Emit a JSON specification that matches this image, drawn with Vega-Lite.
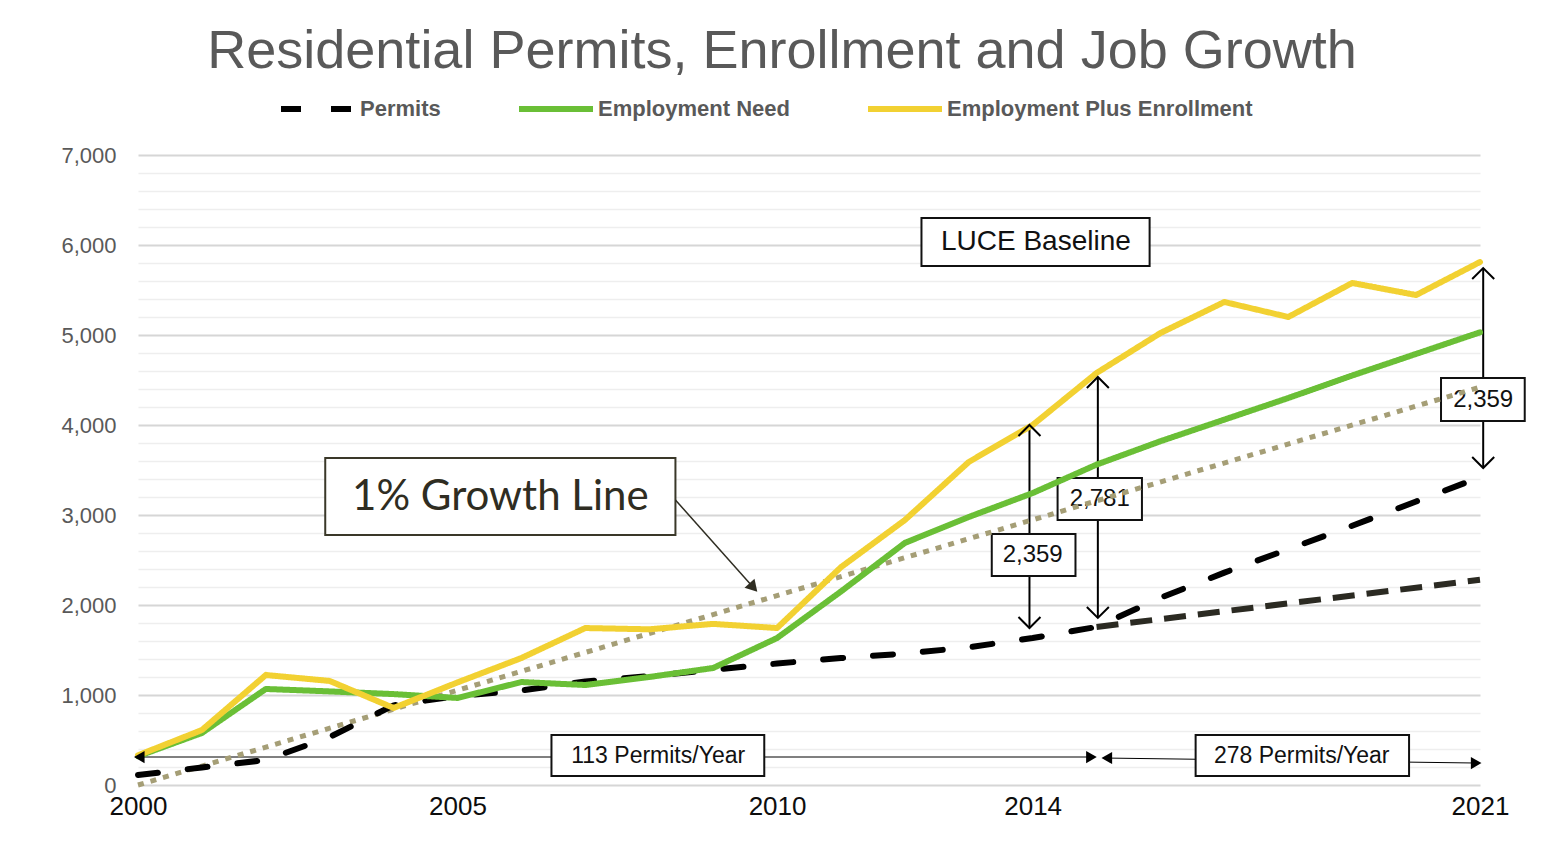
{
  "$schema": "https://vega.github.io/schema/vega-lite/v6.json",
  "width": 1342,
  "height": 630,
  "autosize": {"type": "none"},
  "padding": {"left": 138, "top": 155, "right": 70, "bottom": 81},
  "background": "#ffffff",
  "config": {"view": {"stroke": null}},
  "title": {
    "text": "Residential Permits, Enrollment and Job Growth",
    "font": "Liberation Sans",
    "fontSize": 54,
    "fontWeight": "normal",
    "color": "#595959",
    "anchor": "middle",
    "dx": -27,
    "offset": -10
  },
  "datasets": {
    "series": [
      {"year": 2000, "series": "Permits", "value": 111},
      {"year": 2001, "series": "Permits", "value": 195},
      {"year": 2002, "series": "Permits", "value": 278},
      {"year": 2003, "series": "Permits", "value": 533},
      {"year": 2004, "series": "Permits", "value": 885},
      {"year": 2005, "series": "Permits", "value": 990},
      {"year": 2006, "series": "Permits", "value": 1050},
      {"year": 2007, "series": "Permits", "value": 1150},
      {"year": 2008, "series": "Permits", "value": 1210},
      {"year": 2009, "series": "Permits", "value": 1280},
      {"year": 2010, "series": "Permits", "value": 1350},
      {"year": 2011, "series": "Permits", "value": 1410},
      {"year": 2012, "series": "Permits", "value": 1460},
      {"year": 2013, "series": "Permits", "value": 1530},
      {"year": 2014, "series": "Permits", "value": 1633},
      {"year": 2015, "series": "Permits", "value": 1756},
      {"year": 2016, "series": "Permits", "value": 2080},
      {"year": 2017, "series": "Permits", "value": 2360},
      {"year": 2018, "series": "Permits", "value": 2620},
      {"year": 2019, "series": "Permits", "value": 2880},
      {"year": 2020, "series": "Permits", "value": 3150},
      {"year": 2021, "series": "Permits", "value": 3420},
      {"year": 2000, "series": "Employment Need", "value": 320},
      {"year": 2001, "series": "Employment Need", "value": 578},
      {"year": 2002, "series": "Employment Need", "value": 1067},
      {"year": 2003, "series": "Employment Need", "value": 1040},
      {"year": 2004, "series": "Employment Need", "value": 1010},
      {"year": 2005, "series": "Employment Need", "value": 967},
      {"year": 2006, "series": "Employment Need", "value": 1144},
      {"year": 2007, "series": "Employment Need", "value": 1111},
      {"year": 2008, "series": "Employment Need", "value": 1200},
      {"year": 2009, "series": "Employment Need", "value": 1300},
      {"year": 2010, "series": "Employment Need", "value": 1633},
      {"year": 2011, "series": "Employment Need", "value": 2150},
      {"year": 2012, "series": "Employment Need", "value": 2690},
      {"year": 2013, "series": "Employment Need", "value": 2978},
      {"year": 2014, "series": "Employment Need", "value": 3244},
      {"year": 2015, "series": "Employment Need", "value": 3560},
      {"year": 2016, "series": "Employment Need", "value": 3820},
      {"year": 2017, "series": "Employment Need", "value": 4060},
      {"year": 2018, "series": "Employment Need", "value": 4300},
      {"year": 2019, "series": "Employment Need", "value": 4550},
      {"year": 2020, "series": "Employment Need", "value": 4790},
      {"year": 2021, "series": "Employment Need", "value": 5030},
      {"year": 2000, "series": "Employment Plus Enrollment", "value": 330},
      {"year": 2001, "series": "Employment Plus Enrollment", "value": 611},
      {"year": 2002, "series": "Employment Plus Enrollment", "value": 1222},
      {"year": 2003, "series": "Employment Plus Enrollment", "value": 1156},
      {"year": 2004, "series": "Employment Plus Enrollment", "value": 856},
      {"year": 2005, "series": "Employment Plus Enrollment", "value": 1140},
      {"year": 2006, "series": "Employment Plus Enrollment", "value": 1411},
      {"year": 2007, "series": "Employment Plus Enrollment", "value": 1744},
      {"year": 2008, "series": "Employment Plus Enrollment", "value": 1730},
      {"year": 2009, "series": "Employment Plus Enrollment", "value": 1790},
      {"year": 2010, "series": "Employment Plus Enrollment", "value": 1744},
      {"year": 2011, "series": "Employment Plus Enrollment", "value": 2420},
      {"year": 2012, "series": "Employment Plus Enrollment", "value": 2944},
      {"year": 2013, "series": "Employment Plus Enrollment", "value": 3589},
      {"year": 2014, "series": "Employment Plus Enrollment", "value": 4000},
      {"year": 2015, "series": "Employment Plus Enrollment", "value": 4578},
      {"year": 2016, "series": "Employment Plus Enrollment", "value": 5022},
      {"year": 2017, "series": "Employment Plus Enrollment", "value": 5367},
      {"year": 2018, "series": "Employment Plus Enrollment", "value": 5200},
      {"year": 2019, "series": "Employment Plus Enrollment", "value": 5578},
      {"year": 2020, "series": "Employment Plus Enrollment", "value": 5444},
      {"year": 2021, "series": "Employment Plus Enrollment", "value": 5811}
    ],
    "trend": [{"year": 2015, "value": 1756}, {"year": 2021, "value": 2280}],
    "growth": [{"year": 2000, "value": 0}, {"year": 2021, "value": 4420}],
    "vgrid": [{"year": 2005}, {"year": 2010}, {"year": 2014}, {"year": 2015}, {"year": 2021}],
    "varrows": [
      {"year": 2013.95, "value": 1744, "value2": 4000},
      {"year": 2015.02, "value": 1856, "value2": 4533},
      {"year": 2021.05, "value": 3522, "value2": 5744}
    ],
    "chevUp": [
      {"year": 2013.95, "value": 4000},
      {"year": 2015.02, "value": 4533},
      {"year": 2021.05, "value": 5744}
    ],
    "chevDown": [
      {"year": 2013.95, "value": 1744},
      {"year": 2015.02, "value": 1856},
      {"year": 2021.05, "value": 3522}
    ],
    "harrows": [
      {"year": 2000.05, "year2": 2014.95, "value": 311, "value2": 311},
      {"year": 2015.1, "year2": 2020.95, "value": 300, "value2": 244}
    ],
    "triLeft": [{"year": 2000.02, "value": 311}, {"year": 2015.16, "value": 300}],
    "triRight": [{"year": 2014.92, "value": 311}, {"year": 2020.94, "value": 244}],
    "boxes": [
      {"kind": "luce", "label": "LUCE Baseline", "year": 2012.26, "year2": 2015.83, "value": 5767, "value2": 6300, "cx": 2014.05, "cy": 6033},
      {"kind": "growth", "label": "1% Growth Line", "year": 2002.93, "year2": 2008.41, "value": 2778, "value2": 3633, "cx": 2005.67, "cy": 3200},
      {"kind": "num", "label": "2,359", "year": 2013.36, "year2": 2014.67, "value": 2322, "value2": 2789, "cx": 2014.0, "cy": 2556},
      {"kind": "num", "label": "2,781", "year": 2014.39, "year2": 2015.71, "value": 2944, "value2": 3411, "cx": 2015.05, "cy": 3178},
      {"kind": "num", "label": "2,359", "year": 2020.39, "year2": 2021.7, "value": 4044, "value2": 4522, "cx": 2021.05, "cy": 4278},
      {"kind": "rate", "label": "113 Permits/Year", "year": 2006.47, "year2": 2009.8, "value": 100, "value2": 556, "cx": 2008.14, "cy": 322},
      {"kind": "rate", "label": "278 Permits/Year", "year": 2016.55, "year2": 2019.89, "value": 100, "value2": 556, "cx": 2018.21, "cy": 322}
    ],
    "callout": [{"year": 2008.41, "value": 3167, "year2": 2009.63, "value2": 2194}],
    "calloutHead": [{"year": 2009.63, "value": 2194}]
  },
  "encoding": {
    "x": {
      "field": "year", "type": "quantitative", "title": null,
      "scale": {"domain": [2000, 2021], "nice": false, "zero": false},
      "axis": {
        "values": [2000, 2005, 2010, 2014, 2021], "format": "d", "grid": false, "domain": false, "ticks": false,
        "labelFont": "Liberation Sans", "labelFontSize": 26, "labelColor": "#0d0d0d", "labelPadding": 8,
        "labelFlush": false, "labelOverlap": false
      }
    },
    "y": {
      "field": "value", "type": "quantitative", "title": null,
      "scale": {"domain": [0, 7000], "nice": false},
      "axis": {
        "values": [0,200,400,600,800,1000,1200,1400,1600,1800,2000,2200,2400,2600,2800,3000,3200,3400,3600,3800,4000,4200,4400,4600,4800,5000,5200,5400,5600,5800,6000,6200,6400,6600,6800,7000],
        "labelExpr": "datum.value % 1000 === 0 ? format(datum.value, ',') : ''",
        "domain": false, "ticks": false, "labelOverlap": false,
        "labelFont": "Liberation Sans", "labelFontSize": 22, "labelColor": "#595959", "labelPadding": 22,
        "grid": true,
        "gridColor": {"condition": {"test": "datum.value % 1000 === 0", "value": "#d6d6d6"}, "value": "#eeeeee"},
        "gridWidth": {"condition": {"test": "datum.value % 1000 === 0", "value": 2}, "value": 1.5}
      }
    }
  },
  "layer": [
    {
      "data": {"name": "harrows"},
      "mark": {"type": "rule", "color": "#000000", "strokeWidth": 1},
      "encoding": {"x2": {"field": "year2"}, "y2": {"field": "value2"}}
    },
    {
      "data": {"name": "varrows"},
      "mark": {"type": "rule", "color": "#000000", "strokeWidth": 2},
      "encoding": {"y2": {"field": "value2"}}
    },
    {
      "data": {"name": "boxes"},
      "transform": [{"filter": "datum.kind !== 'growth'"}],
      "mark": {"type": "rect", "fill": "#ffffff", "stroke": "#111111", "strokeWidth": 2},
      "encoding": {"x2": {"field": "year2"}, "y2": {"field": "value2"}}
    },
    {
      "data": {"name": "boxes"},
      "transform": [{"filter": "datum.kind === 'growth'"}],
      "mark": {"type": "rect", "fill": "#ffffff", "stroke": "#3a3829", "strokeWidth": 2},
      "encoding": {"x2": {"field": "year2"}, "y2": {"field": "value2"}}
    },
    {
      "data": {"name": "boxes"},
      "transform": [{"filter": "datum.kind === 'luce'"}],
      "mark": {"type": "text", "font": "Liberation Sans", "fontSize": 28, "color": "#111111", "align": "center", "baseline": "middle"},
      "encoding": {"x": {"field": "cx", "type": "quantitative", "title": null}, "y": {"field": "cy", "type": "quantitative", "title": null}, "text": {"field": "label"}}
    },
    {
      "data": {"name": "boxes"},
      "transform": [{"filter": "datum.kind === 'growth'"}],
      "mark": {"type": "text", "font": "Lato", "fontSize": 42, "color": "#2f2d22", "align": "center", "baseline": "middle"},
      "encoding": {"x": {"field": "cx", "type": "quantitative", "title": null}, "y": {"field": "cy", "type": "quantitative", "title": null}, "text": {"field": "label"}}
    },
    {
      "data": {"name": "boxes"},
      "transform": [{"filter": "datum.kind === 'num'"}],
      "mark": {"type": "text", "font": "Liberation Sans", "fontSize": 24, "color": "#111111", "align": "center", "baseline": "middle"},
      "encoding": {"x": {"field": "cx", "type": "quantitative", "title": null}, "y": {"field": "cy", "type": "quantitative", "title": null}, "text": {"field": "label"}}
    },
    {
      "data": {"name": "boxes"},
      "transform": [{"filter": "datum.kind === 'rate'"}],
      "mark": {"type": "text", "font": "Liberation Sans", "fontSize": 23, "color": "#111111", "align": "center", "baseline": "middle"},
      "encoding": {"x": {"field": "cx", "type": "quantitative", "title": null}, "y": {"field": "cy", "type": "quantitative", "title": null}, "text": {"field": "label"}}
    },
    {
      "data": {"name": "vgrid"},
      "mark": {"type": "rule", "color": "#b8b38f", "strokeWidth": 1.5, "strokeDash": [2, 3]},
      "encoding": {"y": {"datum": 0}, "y2": {"datum": 7000}}
    },
    {
      "data": {"name": "growth"},
      "mark": {"type": "line", "color": "#a59e76", "strokeWidth": 5, "strokeDash": [6, 7], "strokeCap": "butt"},
      "encoding": {}
    },
    {
      "data": {"name": "trend"},
      "mark": {"type": "line", "color": "#2b2a22", "strokeWidth": 6, "strokeDash": [22, 12], "strokeCap": "butt"},
      "encoding": {}
    },
    {
      "data": {"name": "series"},
      "mark": {"type": "line", "strokeWidth": 6, "strokeCap": "round", "strokeJoin": "round"},
      "encoding": {
        "color": {
          "field": "series", "type": "nominal",
          "scale": {"domain": ["Permits", "Employment Need", "Employment Plus Enrollment"], "range": ["#000000", "#6abf36", "#f2d132"]},
          "legend": {"title": null, "orient": "none", "legendX": 140, "legendY": -86, "direction": "horizontal", "symbolType": "stroke", "symbolSize": 5476, "symbolStrokeWidth": 6, "labelFont": "Liberation Sans", "labelFontWeight": "bold", "labelFontSize": 22, "labelColor": "#595959", "labelOffset": 2, "columnPadding": 66, "padding": 0, "labelLimit": 600}
        },
        "strokeDash": {
          "field": "series", "type": "nominal",
          "scale": {"domain": ["Permits", "Employment Need", "Employment Plus Enrollment"], "range": [[20, 30], [1, 0], [1, 0]]},
          "legend": {"title": null, "orient": "none", "legendX": 140, "legendY": -86, "direction": "horizontal", "symbolType": "stroke", "symbolSize": 5476, "symbolStrokeWidth": 6, "labelFont": "Liberation Sans", "labelFontWeight": "bold", "labelFontSize": 22, "labelColor": "#595959", "labelOffset": 2, "columnPadding": 66, "padding": 0, "labelLimit": 600}
        }
      }
    },
    {
      "data": {"name": "chevUp"},
      "mark": {"type": "point", "shape": "M-1,1L0,0L1,1", "size": 484, "filled": false, "stroke": "#000000", "strokeWidth": 2, "opacity": 1},
      "encoding": {}
    },
    {
      "data": {"name": "chevDown"},
      "mark": {"type": "point", "shape": "M-1,-1L0,0L1,-1", "size": 484, "filled": false, "stroke": "#000000", "strokeWidth": 2, "opacity": 1},
      "encoding": {}
    },
    {
      "data": {"name": "triLeft"},
      "mark": {"type": "point", "shape": "triangle-left", "size": 150, "filled": true, "fill": "#000000", "opacity": 1},
      "encoding": {}
    },
    {
      "data": {"name": "triRight"},
      "mark": {"type": "point", "shape": "triangle-right", "size": 150, "filled": true, "fill": "#000000", "opacity": 1},
      "encoding": {}
    },
    {
      "data": {"name": "callout"},
      "mark": {"type": "rule", "color": "#2f2d22", "strokeWidth": 1.5},
      "encoding": {"x2": {"field": "year2"}, "y2": {"field": "value2"}}
    },
    {
      "data": {"name": "calloutHead"},
      "mark": {"type": "point", "shape": "triangle-up", "size": 180, "filled": true, "fill": "#2f2d22", "angle": 138, "opacity": 1},
      "encoding": {}
    }
  ]
}
